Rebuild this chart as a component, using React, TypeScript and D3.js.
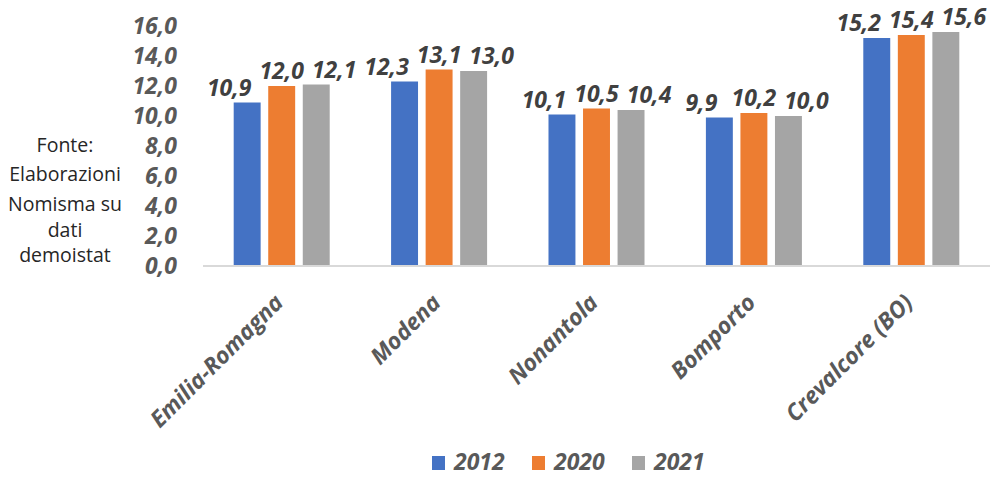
import * as d3 from 'd3'

const categories = ['Emilia-Romagna', 'Modena', 'Nonantola', 'Bomporto', 'Crevalcore (BO)']
const years = ['2012', '2020', '2021']
const values2012 = [10.9, 12.3, 10.1, 9.9, 15.2]
const values2020 = [12.0, 13.1, 10.5, 10.2, 15.4]
const values2021 = [12.1, 13.0, 10.4, 10.0, 15.6]
const yTicks = [0, 2, 4, 6, 8, 10, 12, 14, 16]
const noteLines = ['Fonte:', 'Elaborazioni', 'Nomisma su', 'dati', 'demoistat']

const colors = ['#4472C4', '#ED7D31', '#A5A5A5']
const width = 999
const height = 477
const plot = { left: 203, right: 990, top: 26, bottom: 266 }
const font = '"Open Sans", "Noto Sans", sans-serif'
const fmt = (v: number) => v.toFixed(1).replace('.', ',')

const App = () => {
  const series = [values2012, values2020, values2021]

  const y = d3.scaleLinear().domain([0, 16]).range([plot.bottom, plot.top])
  const x0 = d3.scaleBand<string>()
    .domain(categories)
    .range([plot.left, plot.right])
    .paddingInner(0.39)
    .paddingOuter(0.195)
  const x1 = d3.scaleBand<string>()
    .domain(years)
    .range([0, x0.bandwidth()])
    .paddingInner(0.22)

  // note lines on the left sit at uneven baselines in the original
  const noteBaselines = [152, 181, 211, 237, 262]

  return (
    <svg width={width} height={height} style={{ position: 'absolute', left: 0, top: 0, background: '#fff' }}>
      {/* source note */}
      <g fontFamily={font} fontSize={19.5} fill="#262626" textAnchor="middle">
        {noteLines.map((t, i) => (
          <text key={t} x={65} y={noteBaselines[i]}>{t}</text>
        ))}
      </g>

      {/* y tick labels */}
      <g fontFamily={font} fontSize={23} fontWeight={700} fontStyle="italic" fill="#595959" textAnchor="end">
        {yTicks.map(t => (
          <text key={t} x={177} y={y(t)} dy="0.36em">{fmt(t)}</text>
        ))}
      </g>

      {/* bars */}
      {categories.map((c, ci) => (
        <g key={c} transform={`translate(${x0(c)},0)`}>
          {years.map((yr, si) => {
            const v = series[si][ci]
            return (
              <rect
                key={yr}
                x={x1(yr)}
                y={y(v)}
                width={x1.bandwidth()}
                height={y(0) - y(v)}
                fill={colors[si]}
              />
            )
          })}
        </g>
      ))}

      {/* axis line */}
      <line x1={plot.left} x2={plot.right} y1={y(0)} y2={y(0)} stroke="#D9D9D9" strokeWidth={2} />

      {/* value labels, spread sideways so they don't overlap */}
      <g fontFamily={font} fontSize={23} fontWeight={700} fontStyle="italic" fill="#404040" textAnchor="middle">
        {categories.map((c, ci) =>
          years.map((yr, si) => {
            const v = series[si][ci]
            const cx = (x0(c) ?? 0) + (x1(yr) ?? 0) + x1.bandwidth() / 2 + (si - 1) * 18
            return (
              <text key={c + yr} x={cx} y={y(v) - 7}>{fmt(v)}</text>
            )
          })
        )}
      </g>

      {/* category labels */}
      <g fontFamily={font} fontSize={23} fontWeight={700} fontStyle="italic" fill="#595959" textAnchor="end">
        {categories.map(c => (
          <text
            key={c}
            transform={`translate(${(x0(c) ?? 0) + x0.bandwidth() / 2 + 3},${y(0) + 38}) rotate(-45)`}
          >
            {c}
          </text>
        ))}
      </g>

      {/* legend */}
      <g fontFamily={font} fontSize={23} fontWeight={700} fontStyle="italic" fill="#595959">
        {years.map((yr, i) => (
          <g key={yr} transform={`translate(${432 + i * 100},0)`}>
            <rect x={0} y={456} width={13} height={14} fill={colors[i]} />
            <text x={22} y={470}>{yr}</text>
          </g>
        ))}
      </g>
    </svg>
  )
}

export default App
